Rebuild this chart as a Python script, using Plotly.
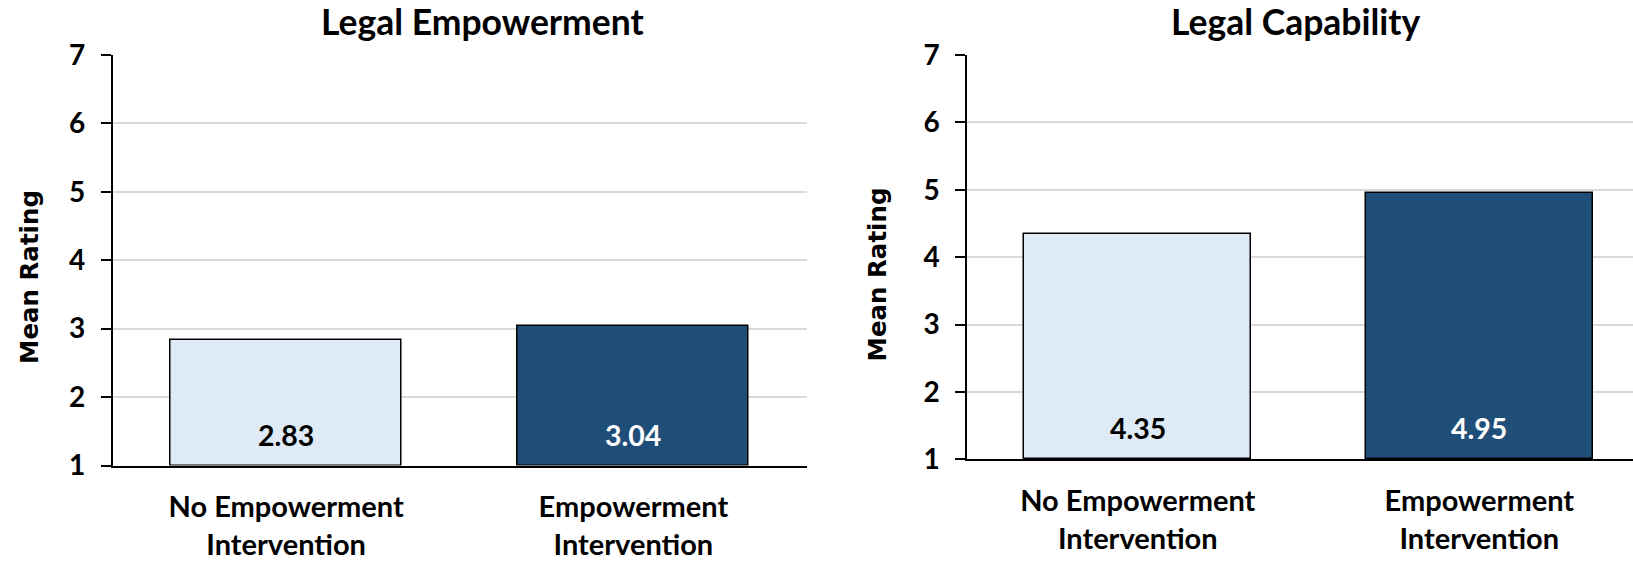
import plotly.graph_objects as go

# Data
categories = ["No Empowerment Intervention", "Empowerment Intervention"]
tick_labels = ["No Empowerment<br>Intervention", "Empowerment<br>Intervention"]
empowerment_means = [2.83, 3.04]
capability_means = [4.35, 4.95]
panel_titles = ["Legal Empowerment", "Legal Capability"]
y_title = "Mean Rating"
y_ticks = [1, 2, 3, 4, 5, 6, 7]

bar_colors = ["#DEEAF6", "#1F4E79"]
label_colors = ["#000000", "#FFFFFF"]

W, H = 1633, 563
LABEL_FONT = "Lato"

fig = go.Figure()

panels = [
    ("x", "y", empowerment_means),
    ("x2", "y2", capability_means),
]
for xa, ya, vals in panels:
    fig.add_trace(go.Bar(
        x=categories, y=[v - 1 for v in vals], base=1,
        xaxis=xa, yaxis=ya,
        width=0.665,
        marker=dict(color=bar_colors, line=dict(color="#000000", width=1.5)),
        hoverinfo="skip", showlegend=False,
    ))
    # value labels near the bottom of each bar
    for cat, v, c in zip(categories, vals, label_colors):
        fig.add_annotation(
            x=cat, y=1, xref=xa, yref=ya, yshift=31,
            text=f"{v:.2f}", showarrow=False, yanchor="middle",
            font=dict(family=LABEL_FONT, size=28.5, color=c, weight="bold"),
        )

common_x = dict(
    type="category", categoryorder="array", categoryarray=categories,
    tickmode="array", tickvals=categories, ticktext=tick_labels,
    showgrid=False, showline=True, linecolor="#000000", linewidth=2,
    ticks="", ticklabelstandoff=15, automargin=False,
    tickfont=dict(family=LABEL_FONT, size=29, color="#000000", weight="bold"),
)
common_y = dict(
    range=[1, 7], tickmode="array", tickvals=y_ticks,
    showgrid=True, gridcolor="#D9D9D9", gridwidth=2,
    showline=True, linecolor="#000000", linewidth=1.5,
    ticks="outside", ticklen=10, tickwidth=1.5, tickcolor="#000000",
    ticklabelstandoff=10, zeroline=False, automargin=False,
    tickfont=dict(family=LABEL_FONT, size=28, color="#000000", weight="bold"),
)

fig.update_layout(
    width=W, height=H,
    margin=dict(l=0, r=0, t=0, b=0, pad=0, autoexpand=False),
    paper_bgcolor="#FFFFFF", plot_bgcolor="#FFFFFF",
    bargap=0,
    xaxis=dict(domain=[112.5 / W, 807 / W], range=[-0.5, 1.5], anchor="y", **common_x),
    xaxis2=dict(domain=[967 / W, 1.0], range=[-0.5, 1.45], anchor="y2", **common_x),
    yaxis=dict(domain=[(H - 465.5) / H, (H - 55) / H], anchor="x", **common_y),
    yaxis2=dict(domain=[(H - 459.3) / H, (H - 55) / H], anchor="x2", **common_y),
)

# panel titles
for title, xc in zip(panel_titles, [482.5, 1295.7]):
    fig.add_annotation(
        x=xc / W, y=(H - 21) / H, xref="paper", yref="paper",
        text=title, showarrow=False, xanchor="center", yanchor="middle",
        font=dict(family=LABEL_FONT, size=35.5, color="#000000", weight="bold"),
    )

# y-axis titles
for xc, yc in [(29, 277), (876.5, 275)]:
    fig.add_annotation(
        x=xc / W, y=(H - yc) / H, xref="paper", yref="paper",
        text=y_title, showarrow=False, textangle=-90,
        xanchor="center", yanchor="middle",
        font=dict(family="DejaVu Sans", size=24.5, color="#000000", weight="bold"),
    )

fig.write_html("out.html")
